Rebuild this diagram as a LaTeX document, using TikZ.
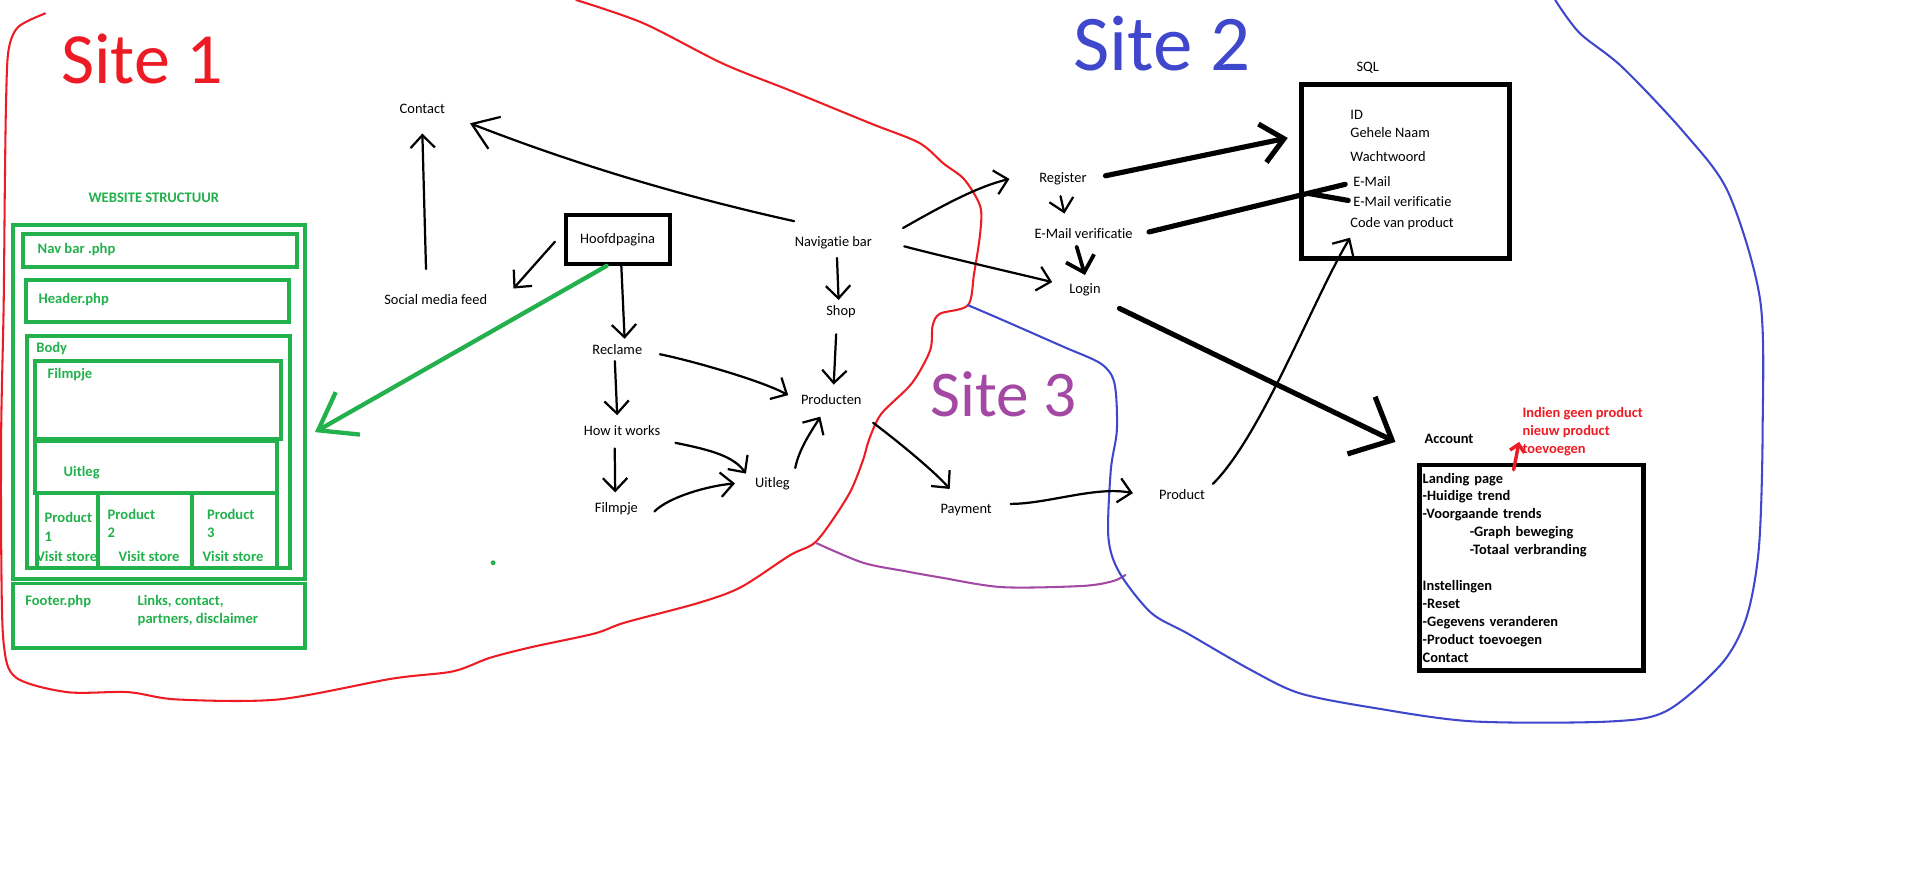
\documentclass[tikz,border=0pt]{standalone}
\usepackage{fontspec}
\setmainfont{Carlito}[Ligatures={NoCommon,NoRare}]
\usepackage{tikz}
\usetikzlibrary{arrows.meta}

\definecolor{paintred}{RGB}{237,28,36}
\definecolor{paintblue}{RGB}{63,72,204}
\definecolor{paintpurple}{RGB}{163,73,164}
\definecolor{paintgreen}{RGB}{34,177,76}

\tikzset{
  txt/.style={font=\fontsize{8.4}{10}\selectfont, inner sep=3pt},
  sqltxt/.style={font=\fontsize{8.4}{10}\selectfont, inner sep=0pt, anchor=west},
  gtxt/.style={font=\bfseries\fontsize{8.5}{10.8}\selectfont, text=paintgreen, inner sep=0pt, anchor=west, align=left},
  gbox/.style={draw=paintgreen, line width=2.3pt},
  sitelabel/.style={inner sep=0pt, anchor=base west},
  omlijning/.style={line width=1.2pt, line cap=round, line join=round},
  arr/.style={line width=1.3pt, line cap=round, -{Straight Barb[length=2.6mm,width=5mm]}},
  thickarr/.style={line width=3pt, line cap=round, -{Straight Barb[length=4.5mm,width=8mm]}},
}

\begin{document}
\begin{tikzpicture}[x=0.025cm, y=-0.025cm]
\useasboundingbox (0,0) rectangle (1568,719);
\fill[white] (0,0) rectangle (1568,719);

% site labels
\node[sitelabel, text=paintred, font=\fontsize{42}{42}\selectfont] (site1) at (50,68) {Site 1};
\node[sitelabel, text=paintblue, font=\fontsize{46}{46}\selectfont] (site2) at (879,58) {Site 2};
\node[sitelabel, text=paintpurple, font=\fontsize{38}{38}\selectfont] (site3) at (762,341) {Site 3};

% site outlines
\draw[omlijning, paintred] plot[smooth, tension=0.5] coordinates {(472,0) (527,19) (592,52) (647,74) (713,101) (753,117) (773,134) (790,147) (803,169) (803,191) (798,224) (793,250) (770,257) (764,267) (762,287) (747,314) (722,339) (712,360) (707,377) (697,402) (682,426) (667,445) (647,455) (607,481) (572,494) (512,510) (487,519) (436,530) (401,539) (371,550) (321,556) (228,573) (145,573) (105,567) (55,567) (13,555) (3,527) (1,450) (1,350) (3,250) (4,150) (5,82) (7,41) (15,22) (37,11)};
\draw[omlijning, paintpurple] plot[smooth, tension=0.5] coordinates {(669,445) (707,461) (742,468) (770,473) (821,481) (887,480) (912,476) (922,471)};
\draw[omlijning, paintblue] plot[smooth, tension=0.5] coordinates {(793,250) (821,262) (871,284) (902,298) (913,314) (915,352) (910,385) (908,440) (917,469) (943,502) (973,519) (1025,549) (1065,568) (1126,580) (1207,591) (1320,591) (1366,582) (1411,543) (1431,505) (1441,448) (1444,352) (1442,246) (1416,158) (1380,109) (1329,55) (1294,27) (1274,0)};

% website structuur
\node[font=\bfseries\fontsize{8.5}{10}\selectfont, text=paintgreen] (structuur) at (126,162) {WEBSITE STRUCTUUR};
\draw[gbox] (11,184) rectangle (250,474);
\draw[gbox] (18.5,191.5) rectangle (243.5,219);
\draw[gbox] (21,229.5) rectangle (236.5,264);
\draw[gbox] (22.5,275.5) rectangle (237.5,465);
\draw[gbox] (28.5,295.5) rectangle (230,360);
\draw[gbox] (29,361) rectangle (227,404);
\foreach \kolom in {30,80.5,157,227}
  \draw[gbox] (\kolom,404) -- (\kolom,464);
\draw[gbox] (11,478) rectangle (250,531);
\fill[paintgreen] (404,461) circle (2);

\node[gtxt] (navbarphp) at (30.6,204.8) {Nav bar .php};
\node[gtxt] (headerphp) at (31.4,245.2) {Header.php};
\node[gtxt] (body) at (29.5,285.4) {Body};
\node[gtxt] (filmpjevak) at (38.8,307.2) {Filmpje};
\node[gtxt] (uitlegvak) at (51.9,387.2) {Uitleg};
\node[gtxt] (product1) at (36.3,431.5) {Product\\1};
\node[gtxt] (product2) at (87.9,428.7) {Product\\2};
\node[gtxt] (product3) at (169.3,428.7) {Product\\3};
\node[gtxt] (visit1) at (29.5,456) {Visit store};
\node[gtxt] (visit2) at (97,456) {Visit store};
\node[gtxt] (visit3) at (165.7,455.7) {Visit store};
\node[gtxt] (footerphp) at (20.5,492.9) {Footer.php};
\node[gtxt, font=\bfseries\fontsize{8.5}{10.3}\selectfont] (links) at (112.5,500.1) {Links, contact,\\partners, disclaimer};

% pagina's
\node[txt] (contact) at (346,89) {Contact};
\node[txt] (social) at (357,245) {Social media feed};
\node[draw, line width=2.5pt, minimum width=2.13cm, minimum height=1cm, inner sep=0pt, font=\fontsize{8.4}{10}\selectfont] (hoofd) at (506,196) {Hoofdpagina};
\node[txt] (navbar) at (682.7,198.8) {Navigatie bar};
\node[txt] (shop) at (689,255.3) {Shop};
\node[txt] (reclame) at (505.7,286.2) {Reclame};
\node[txt] (producten) at (681,327.7) {Producten};
\node[txt] (howitworks) at (509.6,352.8) {How it works};
\node[txt] (uitleg) at (632.8,396) {Uitleg};
\node[txt] (filmpje) at (505,417) {Filmpje};
\node[txt] (payment) at (791.5,417.8) {Payment};
\node[txt] (product) at (968.4,405) {Product};
\node[txt] (register) at (870.8,146.6) {Register};
\node[txt] (emailverif) at (887.7,191) {E-Mail verificatie};
\node[txt] (login) at (888.8,237.6) {Login};

% database
\node[txt] (sqllabel) at (1120.5,55.5) {SQL};
\node[draw, line width=3pt, minimum width=4.26cm, minimum height=3.57cm] (sqlbox) at (1151.5,140.6) {};
\node[sqltxt] (sqlid) at (1106,93.7) {ID};
\node[sqltxt] (sqlnaam) at (1106,108.7) {Gehele Naam};
\node[sqltxt] (sqlww) at (1106,128.3) {Wachtwoord};
\node[sqltxt] (sqlmail) at (1108.5,148.8) {E-Mail};
\node[sqltxt] (sqlverif) at (1108.5,165.2) {E-Mail verificatie};
\node[sqltxt] (sqlcode) at (1106,182.9) {Code van product};

% account
\node[txt, font=\bfseries\fontsize{8.4}{10}\selectfont] (account) at (1187,359.8) {Account};
\node[draw, line width=2.6pt, minimum width=4.5875cm, minimum height=4.2125cm, text width=4.4475cm, inner xsep=0.07cm, align=left, font=\bfseries\fontsize{8.4}{10.44}\selectfont] (acctbox) at (1254.5,465) {Landing page\\-Huidige trend\\-Voorgaande trends\\\hspace*{27.4pt}-Graph beweging\\\hspace*{27.4pt}-Totaal verbranding\\[10.44pt]Instellingen\\-Reset\\-Gegevens veranderen\\-Product toevoegen\\Contact};
\node[font=\bfseries\fontsize{8.4}{10.6}\selectfont, text=paintred, align=left, anchor=west, inner sep=0pt] (indien) at (1247,353.6) {Indien geen product\\nieuw product\\toevoegen};

% verbindingen
\coordinate (structuurpunt) at (258,354);
\draw[paintgreen, line width=2.5pt, line cap=round, -{Straight Barb[length=7mm,width=10mm]}] ([shift={(-9,0)}]hoofd.south) -- (structuurpunt);

\draw[arr] ([shift={(-8,-16)}]social.north) -- ([shift={(0,12)}]contact.south);
\draw[arr, -{Straight Barb[length=5mm,width=7mm]}] ([shift={(4,-8)}]navbar.north west) .. controls +(-90,-20) and +(90,35) .. ([shift={(16,12)}]contact.east);
\draw[arr] ([shift={(-7,2)}]hoofd.west) -- ([shift={(17,0)}]social.north east);
\draw[arr] ([shift={(3,0)}]hoofd.south) -- ([shift={(6,0)}]reclame.north);
\draw[arr] ([shift={(3,3)}]navbar.south) -- ([shift={(-2,0)}]shop.north);
\draw[arr] ([shift={(-4,9)}]shop.south) -- ([shift={(2,-4)}]producten.north);
\draw[arr] ([shift={(10,4)}]reclame.east) .. controls +(25,5) and +(-22,-12) .. ([shift={(-6,-4)}]producten.west);
\draw[arr] ([shift={(-2,1)}]reclame.south) -- ([shift={(-4,-4)}]howitworks.north);
\draw[arr] ([shift={(-6,6)}]howitworks.south) -- ([shift={(-1,-4)}]filmpje.north);
\draw[arr] ([shift={(8,10)}]howitworks.east) .. controls +(30,6) and +(-10,-14) .. ([shift={(-3,-8)}]uitleg.west);
\draw[arr] ([shift={(9,2)}]filmpje.east) .. controls +(12,-12) and +(-22,2) .. ([shift={(-12,0)}]uitleg.west);
\draw[arr] ([shift={(0,-3)}]uitleg.north east) .. controls +(3,-16) and +(-6,10) .. ([shift={(-9,5)}]producten.south);
\draw[arr] ([shift={(5,10)}]producten.south east) .. controls +(20,15) and +(-12,-14) .. ([shift={(12,-8)}]payment.north west);
\draw[arr] ([shift={(11,-5)}]payment.east) .. controls +(30,0) and +(-30,-6) .. ([shift={(-17,-1)}]product.west);
\draw[arr] ([shift={(2,0)}]product.north east) .. controls +(40,-40) and +(-30,50) .. ([shift={(0,6.5)}]sqlcode.south west);
\draw[arr] ([shift={(21,-12)}]navbar.east) .. controls +(35,-20) and +(-25,6) .. ([shift={(-20,0)}]register.west);
\draw[arr] ([shift={(22,3)}]navbar.east) .. controls +(30,8) and +(-20,-5) .. ([shift={(-9.5,-6.5)}]login.west);
\draw[arr] ([shift={(-2,4.5)}]register.south) -- ([shift={(-15.7,-7.4)}]emailverif.north);
\draw[arr, line width=2.2pt, -{Straight Barb[length=3mm,width=6mm]}] ([shift={(-5.7,2.4)}]emailverif.south) -- ([shift={(0,-2.75)}]login.north);

\draw[thickarr] ([shift={(11,-2.6)}]register.east) -- ([shift={(-9.2,-27.6)}]sqlbox.west);
\draw[line width=3pt, line cap=round] ([shift={(9,-1)}]emailverif.east) -- coordinate[pos=0.81] (mailsplit) ([shift={(-6.5,2.2)}]sqlmail.west);
\draw[line width=3pt, line cap=round] (mailsplit) -- ([shift={(-4,-1)}]sqlverif.west);
\draw[thickarr, -{Straight Barb[length=7mm,width=13mm]}] ([shift={(11,5.5)}]login.south east) -- ([shift={(-19.3,2.2)}]account.west);

\draw[line width=2pt, paintred, line cap=round, -{Straight Barb[length=1.5mm,width=3mm]}] ([shift={(-14.5,6)}]acctbox.north) -- ([shift={(-2.5,8.4)}]indien.west);
\end{tikzpicture}
\end{document}
